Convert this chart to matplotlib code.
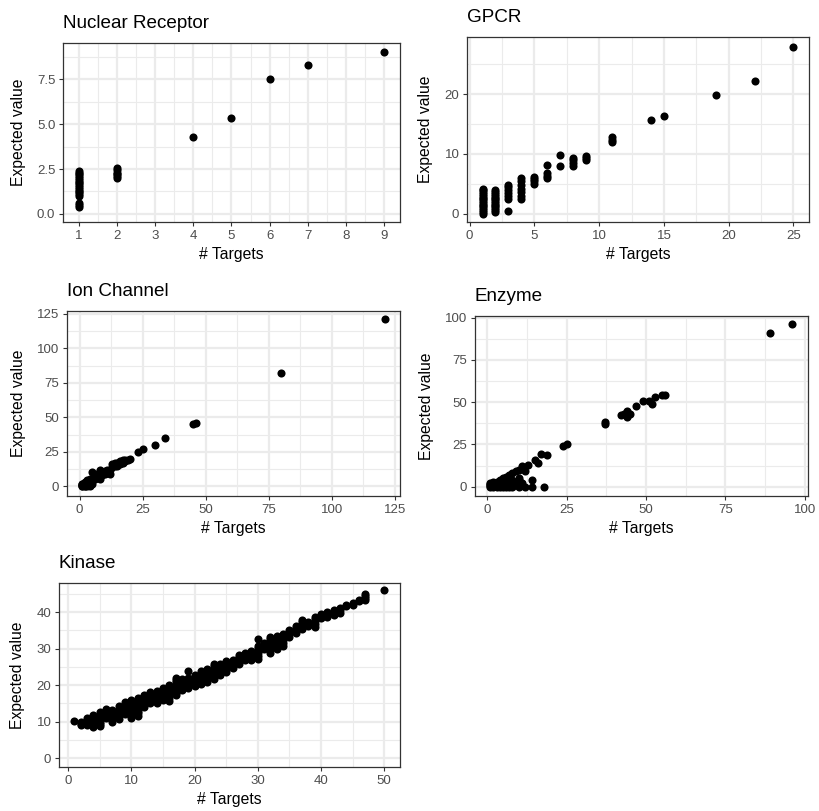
import matplotlib
matplotlib.use("Agg")
import matplotlib.pyplot as plt
from matplotlib.ticker import MultipleLocator, FormatStrFormatter
import numpy as np

plt.rcParams['font.family'] = ['Liberation Sans', 'DejaVu Sans']

# --- Nuclear Receptor: targets -> list of expected values
nr_x = [1, 2, 4, 5, 6, 7, 9]
nr_y = [
    [0.4, 0.5, 0.6, 1.0, 1.1, 1.2, 1.3, 1.4, 1.5, 1.6, 1.7, 1.8, 1.9, 2.0, 2.1, 2.2, 2.3, 2.4],
    [2.0, 2.1, 2.2, 2.3, 2.45, 2.55],
    [4.3], [5.35], [7.5], [8.3], [9.0],
]

# --- GPCR
gpcr_x = [1, 2, 3, 4, 5, 6, 7, 8, 9, 11, 14, 15, 19, 22, 25]
gpcr_y = [
    [0.0, 0.3, 0.6, 0.9, 1.2, 1.5, 1.8, 2.1, 2.4, 2.7, 3.0, 3.3, 3.6, 3.9, 4.2],
    [0.3, 0.6, 0.9, 1.2, 1.5, 1.8, 2.1, 2.4, 2.7, 3.0, 3.3, 3.6, 4.0],
    [0.5, 2.5, 3.0, 3.5, 4.0, 4.4, 4.8],
    [2.4, 3.0, 3.6, 4.2, 4.8, 5.4, 5.9],
    [5.0, 5.4, 5.8, 6.1],
    [5.9, 6.3, 6.8, 8.2],
    [8.0, 9.8],
    [8.0, 8.5, 9.0, 9.3],
    [9.0, 9.4, 9.7],
    [12.0, 12.4, 12.8],
    [15.7], [16.3], [19.9], [22.3], [28.0],
]

# --- Ion Channel
ion_x = [1, 2, 3, 4, 5, 6, 7, 8, 9, 10, 11, 12, 13, 14, 15, 16, 17, 18, 19, 20,
         23, 25, 30, 34, 45, 46, 80, 121]
ion_y = [
    [0, 0.5, 1, 1.5, 2], [0, 0.5, 1, 2, 3], [0, 1, 2, 3, 4.5], [0, 1, 2, 4, 5],
    [2, 4, 10.5], [5, 7], [8, 9], [5, 9, 12], [8, 10], [9, 11], [10, 12], [9, 12],
    [14, 16], [15, 17], [15, 17], [16, 18], [17, 19], [18, 19], [19], [20],
    [25], [27], [30], [35], [45], [46], [82], [121],
]

# --- Enzyme
enz_x = [1, 2, 3, 4, 5, 6, 7, 8, 9, 10, 11, 12, 13, 14, 15, 16, 17, 18, 19,
         24, 25, 37, 42, 43, 44, 45, 47, 49, 51, 52, 53, 55, 56, 89, 96]
enz_y = [
    [0, 0.5, 1, 1.5, 2], [0, 0.5, 1, 2, 2.5], [0, 1, 2, 3], [0, 1, 2, 3.5, 4],
    [0, 1, 2.5, 4, 5], [0, 2, 4, 6], [0, 1, 3, 5, 7], [0, 2, 4, 8], [1, 3, 9],
    [0, 4, 5, 10], [2, 12], [0, 9], [13], [0, 4], [16], [14], [19.5], [0], [19],
    [24], [25], [37, 38], [42.5], [43], [41, 44, 45], [43], [47.5], [50.5], [51],
    [49], [53], [54.5], [54.5], [91], [96],
]

# --- Kinase
kin_x = list(range(1, 48)) + [50]
kin_y = [
    [10.3], [9.0, 9.5, 10.0], [9.2, 10.0, 10.6, 11.0], [8.6, 9.3, 10.0, 10.7, 11.4, 11.8],
    [8.7, 9.4, 10.0, 10.7, 11.4, 12.0, 12.7], [11.0, 11.8, 12.5, 13.5], [10.0, 10.8, 11.5, 12.2, 12.8, 13.2],
    [10.8, 11.5, 12.2, 13.0, 13.6, 14.2], [12.0, 12.7, 13.4, 14.1, 14.7, 15.3],
    [11.0, 11.8, 12.5, 13.2, 13.9, 14.6, 15.3, 16.0], [11.5, 12.3, 13.0, 13.8, 14.5, 15.2, 15.9, 16.5],
    [14.0, 14.7, 15.4, 16.1, 16.8, 17.2], [15.0, 15.7, 16.4, 17.1, 17.7, 18.2],
    [15.0, 15.8, 16.5, 17.2, 17.9, 18.5], [16.0, 16.7, 17.4, 18.1, 18.7, 19.2],
    [15.8, 16.5, 17.2, 17.9, 18.6, 19.3, 20.0], [17.3, 18.0, 18.7, 19.4, 20.1, 20.8, 21.5, 22.0],
    [18.8, 19.5, 20.2, 20.9, 21.5, 21.8], [19.3, 20.0, 20.7, 21.4, 22.0, 24.0],
    [19.8, 20.5, 21.2, 21.9, 22.5, 22.8], [20.3, 21.0, 21.7, 22.4, 23.1, 23.8],
    [20.9, 21.6, 22.3, 23.0, 23.7, 24.5], [21.8, 22.5, 23.2, 23.9, 24.6, 25.3, 25.8],
    [22.8, 23.5, 24.2, 24.9, 25.5, 25.9], [23.6, 24.3, 25.0, 25.7, 26.3, 26.7],
    [24.8, 25.5, 26.1, 26.8], [25.8, 26.5, 27.2, 27.8, 28.3], [26.8, 27.5, 28.2, 28.9],
    [26.8, 27.5, 28.2, 28.9, 29.5], [27.3, 28.0, 28.7, 29.4, 30.1, 30.7, 32.7],
    [29.8, 30.5, 31.2, 31.6], [28.8, 29.6, 30.4, 31.2, 32.0, 32.7, 33.2],
    [29.8, 30.6, 31.4, 32.2, 33.0, 33.6], [30.8, 31.6, 32.4, 33.2, 34.0],
    [33.3, 34.0, 34.7, 35.2], [34.3, 35.0, 35.6, 36.1], [35.3, 36.0, 36.7, 37.3, 37.9],
    [36.3, 36.9, 37.4], [36.0, 36.8, 37.5, 38.2, 38.6], [38.3, 39.0, 39.6],
    [38.8, 39.5, 40.1], [39.3, 40.0, 40.6], [39.8, 40.5, 41.1], [41.6, 42.0],
    [42.1, 42.4], [43.0, 43.4], [43.3, 43.9, 44.4, 44.9], [46.0],
]

W, H = 820, 811


def flatten(xs, ys):
    px, py = [], []
    for x, vals in zip(xs, ys):
        for v in vals:
            px.append(x)
            py.append(v)
    return np.array(px), np.array(py)


def panel(fig, box, title, xs, ys, xlim, ylim, xmajor, ymajor):
    l, t, r, b = box
    ax = fig.add_axes([l / W, 1 - b / H, (r - l) / W, (b - t) / H])
    px, py = flatten(xs, ys)
    ax.scatter(px, py, s=34, color='black', linewidths=0, zorder=3)
    ax.set_xlim(*xlim)
    ax.set_ylim(*ylim)
    ax.xaxis.set_major_locator(MultipleLocator(xmajor))
    ax.xaxis.set_minor_locator(MultipleLocator(xmajor / 2))
    ax.yaxis.set_major_locator(MultipleLocator(ymajor))
    ax.yaxis.set_minor_locator(MultipleLocator(ymajor / 2))
    ax.grid(which='major', color='#EBEBEB', linewidth=1.6, zorder=0)
    ax.grid(which='minor', color='#EBEBEB', linewidth=0.8, zorder=0)
    ax.set_axisbelow(True)
    for s in ax.spines.values():
        s.set_color('#333333')
        s.set_linewidth(0.9)
    ax.tick_params(which='major', length=3, width=0.8, color='#333333',
                   labelsize=9.5, labelcolor='#4D4D4D', pad=2.5)
    ax.tick_params(which='minor', length=0)
    ax.set_xlabel('# Targets', fontsize=11.3, labelpad=4)
    ax.set_ylabel('Expected value', fontsize=11.3, labelpad=8)
    ax.set_title(title, loc='left', fontsize=13.6, pad=11)
    return ax


fig = plt.figure(figsize=(W / 100, H / 100), dpi=100)

ax1 = panel(fig, (63, 43, 400, 222), 'Nuclear Receptor', nr_x, nr_y,
            (0.58, 9.42), (-0.45, 9.52), 1, 2.5)
ax1.yaxis.set_major_formatter(FormatStrFormatter('%.1f'))
panel(fig, (467, 37, 809, 222), 'GPCR', gpcr_x, gpcr_y,
      (-0.2, 26.2), (-1.4, 29.6), 5, 10)
panel(fig, (67, 311, 400, 496), 'Ion Channel', ion_x, ion_y,
      (-5, 127), (-7, 127), 25, 25)
panel(fig, (475, 316, 808, 496), 'Enzyme', enz_x, enz_y,
      (-3.8, 101), (-5.5, 101), 25, 25)
panel(fig, (59, 583, 400, 767), 'Kinase', kin_x, kin_y,
      (-1.45, 52.5), (-2.4, 48.0), 10, 10)

fig.savefig('out.png', dpi=100, facecolor='white')
